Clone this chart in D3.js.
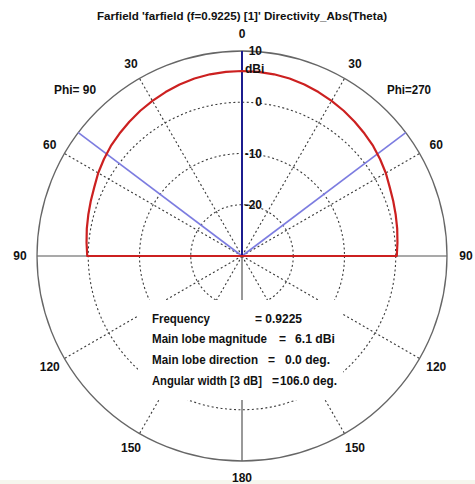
<!DOCTYPE html>
<html>
<head>
<meta charset="utf-8">
<script src="https://cdn.jsdelivr.net/npm/d3@7"></script>
<style>
  html, body { margin: 0; padding: 0; background: #ffffff; }
  svg { display: block; }
  text { font-family: "Liberation Sans", Arial, sans-serif; font-weight: bold; fill: #111; }
</style>
</head>
<body>
<svg id="chart" width="475" height="484"></svg>
<script>
// Farfield cut: theta in degrees (negative = Phi=90 side, positive = Phi=270 side)
const thetaDeg = [-90, -85, -80, -75, -70, -65, -60, -55, -50, -45, -40, -35, -30, -25, -20, -15, -10, -5,
                  0, 5, 10, 15, 20, 25, 30, 35, 40, 45, 50, 55, 60, 65, 70, 75, 80, 85, 90];
// Directivity in dBi
const directivity = [0.2, 0.45, 0.75, 1.05, 1.4, 1.8, 2.4, 2.9, 3.4, 3.8, 4.2, 4.6, 4.95, 5.3, 5.6, 5.85, 6.0, 6.08,
                     6.1, 6.08, 6.0, 5.85, 5.6, 5.3, 4.95, 4.6, 4.2, 3.8, 3.4, 2.9, 2.4, 1.8, 1.4, 1.05, 0.75, 0.45, 0.2];

// Radial grid (dB) and angular grid (deg)
const radialTicks = [-20, -10, 0];
const radialTickLabels = ["-20", "-10", "0", "10"];
const radialLabelValues = [-20, -10, 0, 10];
const angleTicks = [30, 60, 90, 120, 150];

// Summary figures
const frequency = "0.9225";
const mainLobeMagnitude = 6.1;
const mainLobeDirection = 0.0;
const angularWidth3dB = 106.0;

const titleText = "Farfield 'farfield (f=0.9225) [1]' Directivity_Abs(Theta)";

const svg = d3.select("#chart");
const cx = 242, cy = 256, R = 205;
const rScale = d3.scaleLinear().domain([-30, 10]).range([0, R]).clamp(true);
const rad = d => d * Math.PI / 180;
// screen position for angle (deg from top, clockwise) and radius
const pt = (deg, r) => [cx + r * Math.sin(rad(deg)), cy - r * Math.cos(rad(deg))];

// faint strip at the very bottom
svg.append("rect").attr("x", 0).attr("y", 480).attr("width", 475).attr("height", 4).attr("fill", "#f6f6ee");

const g = svg.append("g");

// dashed rings
g.selectAll("circle.ring").data(radialTicks).join("circle")
  .attr("class", "ring")
  .attr("cx", cx).attr("cy", cy)
  .attr("r", d => rScale(d))
  .attr("fill", "none").attr("stroke", "#3a3a3a").attr("stroke-width", 1.1)
  .attr("stroke-dasharray", "2,2.5");

// dashed radial spokes on both sides
const spokes = [];
angleTicks.forEach(a => { spokes.push(a); spokes.push(-a); });
g.selectAll("line.spoke").data(spokes.filter(a => Math.abs(a) !== 90)).join("line")
  .attr("class", "spoke")
  .attr("x1", cx).attr("y1", cy)
  .attr("x2", d => pt(d, R)[0]).attr("y2", d => pt(d, R)[1])
  .attr("stroke", "#3a3a3a").attr("stroke-width", 1.1)
  .attr("stroke-dasharray", "2,2.5");

// solid axes: horizontal through 90 and downward to 180
g.append("line").attr("x1", pt(-90, R)[0]).attr("y1", cy).attr("x2", pt(90, R)[0]).attr("y2", cy)
  .attr("stroke", "#555").attr("stroke-width", 1.2);
g.append("line").attr("x1", cx).attr("y1", cy).attr("x2", cx).attr("y2", pt(180, R)[1])
  .attr("stroke", "#555").attr("stroke-width", 1.2);

// outer circle
g.append("circle").attr("cx", cx).attr("cy", cy).attr("r", rScale(10))
  .attr("fill", "none").attr("stroke", "#666").attr("stroke-width", 1.3);

// 3 dB beam edges
const halfWidth = angularWidth3dB / 2;
g.selectAll("line.beam").data([mainLobeDirection - halfWidth, mainLobeDirection + halfWidth]).join("line")
  .attr("class", "beam")
  .attr("x1", cx).attr("y1", cy)
  .attr("x2", d => pt(d, R)[0]).attr("y2", d => pt(d, R)[1])
  .attr("stroke", "#7c7ce0").attr("stroke-width", 1.6);

// main lobe direction
g.append("line").attr("x1", cx).attr("y1", cy)
  .attr("x2", pt(mainLobeDirection, R)[0]).attr("y2", pt(mainLobeDirection, R)[1])
  .attr("stroke", "#1c1c8e").attr("stroke-width", 2);

// pattern curve, collapsing to the floor beyond +/-90
const pattern = [{t: -90, v: -30}]
  .concat(thetaDeg.map((t, i) => ({t, v: directivity[i]})))
  .concat([{t: 90, v: -30}]);
const radial = d3.lineRadial().angle(d => rad(d.t)).radius(d => rScale(d.v));
g.append("path").attr("d", radial(pattern))
  .attr("transform", `translate(${cx},${cy})`)
  .attr("fill", "none").attr("stroke", "#cc2020").attr("stroke-width", 2.2)
  .attr("stroke-linejoin", "round");

// radial scale labels
g.selectAll("text.rl").data(radialLabelValues).join("text")
  .attr("class", "rl")
  .attr("x", 262).attr("y", d => cy - rScale(d))
  .attr("dy", "0.35em").attr("text-anchor", "end")
  .attr("font-size", 12)
  .text((d, i) => radialTickLabels[i]);
g.append("text").attr("x", 245).attr("y", 69).attr("dy", "0.35em")
  .attr("font-size", 12).text("dBi");

// angle labels
const angleLabels = [0].concat(spokes).concat([180]);
g.selectAll("text.al").data(angleLabels).join("text")
  .attr("class", "al")
  .attr("x", d => pt(d, 222)[0] + (d > 0 && d < 180 ? 2 : 0))
  .attr("y", d => pt(d, 222)[1])
  .attr("dy", "0.35em").attr("text-anchor", "middle")
  .attr("font-size", 12)
  .text(d => Math.abs(d));

// plane labels
svg.append("text").attr("x", 54).attr("y", 90).attr("dy", "0.35em").attr("font-size", 12)
  .attr("textLength", 42).attr("lengthAdjust", "spacingAndGlyphs").text("Phi= 90");
svg.append("text").attr("x", 387).attr("y", 90).attr("dy", "0.35em").attr("font-size", 12)
  .attr("textLength", 44).attr("lengthAdjust", "spacingAndGlyphs").text("Phi=270");

// title
svg.append("text").attr("x", 242).attr("y", 16).attr("dy", "0.35em")
  .attr("text-anchor", "middle").attr("font-size", 11.5)
  .attr("textLength", 290).attr("lengthAdjust", "spacingAndGlyphs")
  .text(titleText);

// summary box
svg.append("rect").attr("x", 138).attr("y", 300).attr("width", 205).attr("height", 100).attr("fill", "#fff");
const rows = [
  {label: "Frequency", w: 58, eqX: 255, eq: "= " + frequency, eqW: 47, valX: null, val: "", valW: 0},
  {label: "Main lobe magnitude", w: 115, eqX: 279, eq: "=", eqW: 0, valX: 295, val: mainLobeMagnitude.toFixed(1) + " dBi", valW: 40},
  {label: "Main lobe direction", w: 106, eqX: 268, eq: "=", eqW: 0, valX: 285, val: mainLobeDirection.toFixed(1) + " deg.", valW: 45},
  {label: "Angular width [3 dB]", w: 110, eqX: 272, eq: "=", eqW: 0, valX: 280, val: angularWidth3dB.toFixed(1) + " deg.", valW: 57}
];
const rowY = [319, 339, 360, 381];
const fitText = (sel, w) => w ? sel.attr("textLength", w).attr("lengthAdjust", "spacingAndGlyphs") : sel;
rows.forEach((r, i) => {
  fitText(svg.append("text").attr("x", 152).attr("y", rowY[i]).attr("dy", "0.35em").attr("font-size", 12), r.w).text(r.label);
  fitText(svg.append("text").attr("x", r.eqX).attr("y", rowY[i]).attr("dy", "0.35em").attr("font-size", 12), r.eqW).text(r.eq);
  if (r.valX) fitText(svg.append("text").attr("x", r.valX).attr("y", rowY[i]).attr("dy", "0.35em").attr("font-size", 12), r.valW).text(r.val);
});
</script>
</body>
</html>
